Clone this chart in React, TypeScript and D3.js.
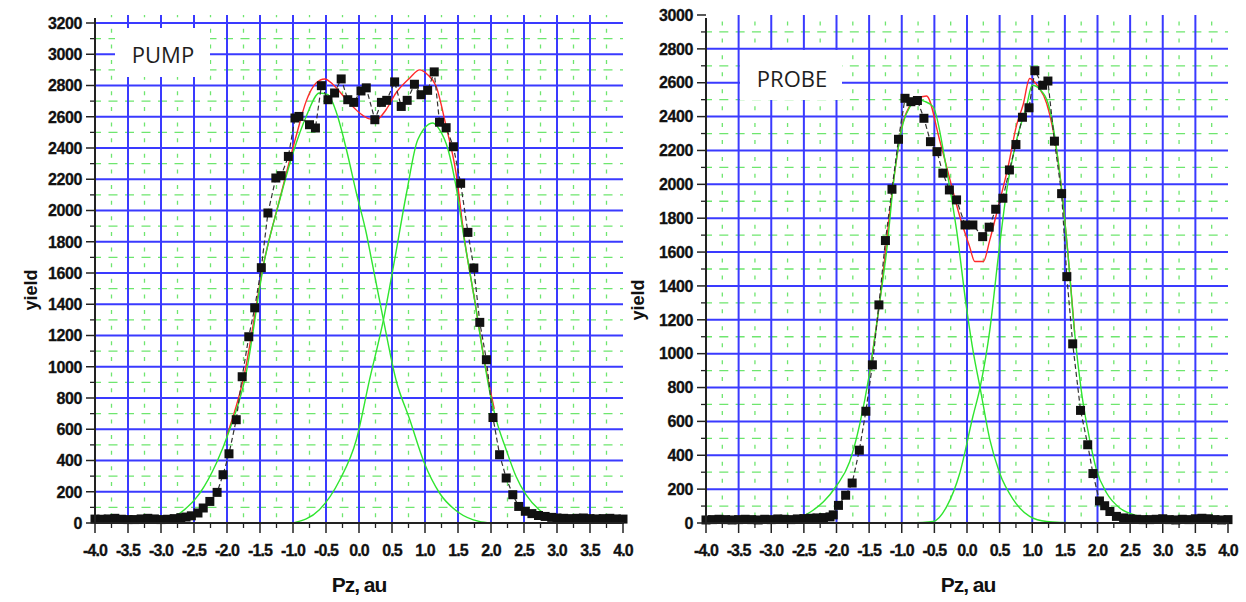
import React from "react";
import * as d3 from "d3";

// ---- data ----
const xTickLabels = ["-4.0", "-3.5", "-3.0", "-2.5", "-2.0", "-1.5", "-1.0", "-0.5", "0.0", "0.5", "1.0", "1.5", "2.0", "2.5", "3.0", "3.5", "4.0"];
const pumpYTicks = [0, 200, 400, 600, 800, 1000, 1200, 1400, 1600, 1800, 2000, 2200, 2400, 2600, 2800, 3000, 3200];
const probeYTicks = [0, 200, 400, 600, 800, 1000, 1200, 1400, 1600, 1800, 2000, 2200, 2400, 2600, 2800, 3000];

// PUMP measured points
const pumpPz = [
  -4.0, -3.9, -3.8, -3.7, -3.6, -3.5, -3.4, -3.3, -3.2, -3.1,
  -3.0, -2.9, -2.8, -2.7, -2.62, -2.54, -2.44, -2.36, -2.26, -2.15,
  -2.06, -1.97, -1.86, -1.77, -1.67, -1.58, -1.48, -1.38, -1.26, -1.18,
  -1.07, -0.97, -0.91, -0.75, -0.66, -0.57, -0.47, -0.37, -0.27, -0.17,
  -0.08, 0.03, 0.11, 0.24, 0.34, 0.42, 0.54, 0.64, 0.73, 0.84,
  0.94, 1.04, 1.14, 1.22, 1.32, 1.43, 1.54, 1.65, 1.74, 1.83,
  1.93, 2.03, 2.13, 2.23, 2.33, 2.42, 2.52, 2.62, 2.72, 2.82,
  2.92, 3.0, 3.1, 3.2, 3.3, 3.4, 3.5, 3.6, 3.7, 3.8,
  3.9, 4.0,
];
const pumpYield = [
  25, 24, 26, 30, 24, 22, 22, 26, 30, 26,
  22, 24, 28, 34, 38, 46, 64, 96, 138, 196,
  309, 443, 661, 936, 1192, 1377, 1634, 1984, 2208, 2223,
  2346, 2592, 2602, 2549, 2528, 2799, 2709, 2752, 2842, 2709,
  2692, 2765, 2785, 2581, 2692, 2705, 2823, 2666, 2705, 2808,
  2741, 2769, 2887, 2565, 2530, 2408, 2174, 1860, 1632, 1284,
  1045, 675, 437, 288, 181, 106, 75, 60, 48, 42,
  36, 32, 30, 28, 30, 32, 28, 26, 28, 30,
  26, 25,
];
// PUMP fit (red) and its two components (green)
const pumpFitPz = [-2.0, -1.75, -1.43, -1.2, -0.95, -0.8, -0.65, -0.52, -0.39, -0.19, 0.01, 0.16, 0.26, 0.41, 0.56, 0.77, 0.92, 1.04, 1.17, 1.32, 1.47, 1.6, 1.75, 1.9, 2.05];
const pumpFit = [560, 925, 1690, 2075, 2480, 2700, 2816, 2842, 2805, 2709, 2624, 2586, 2581, 2645, 2752, 2848, 2900, 2869, 2794, 2538, 2240, 1810, 1435, 1040, 730];
const pumpPeak1Pz = [-4.0, -3.0, -2.71, -2.41, -2.16, -1.96, -1.73, -1.43, -1.2, -1.0, -0.8, -0.6, -0.47, -0.34, -0.19, -0.04, 0.11, 0.19, 0.37, 0.56, 0.77, 0.99, 1.22, 1.52, 1.82, 2.0];
const pumpPeak1 = [0, 10, 64, 192, 384, 597, 917, 1685, 2069, 2368, 2602, 2752, 2741, 2624, 2389, 2112, 1856, 1685, 1300, 917, 661, 384, 192, 64, 10, 0];
const pumpPeak2Pz = [-1.0, -0.6, -0.29, -0.04, 0.16, 0.37, 0.54, 0.72, 0.89, 1.12, 1.22, 1.35, 1.47, 1.6, 1.75, 1.9, 2.0, 2.08, 2.23, 2.38, 2.53, 2.73, 3.03, 3.28, 4.0];
const pumpPeak2 = [0, 85, 277, 533, 917, 1300, 1685, 2112, 2453, 2560, 2517, 2389, 2154, 1800, 1430, 1030, 800, 660, 469, 298, 181, 85, 21, 0, 0];

// PROBE measured points
const probePz = [
  -4.0, -3.9, -3.8, -3.7, -3.6, -3.5, -3.4, -3.3, -3.2, -3.1,
  -3.0, -2.9, -2.8, -2.7, -2.6, -2.5, -2.4, -2.3, -2.2, -2.1,
  -2.05, -1.97, -1.86, -1.76, -1.65, -1.55, -1.45, -1.35, -1.25, -1.15,
  -1.05, -0.95, -0.86, -0.76, -0.66, -0.56, -0.46, -0.37, -0.27, -0.16,
  -0.03, 0.09, 0.24, 0.34, 0.44, 0.55, 0.65, 0.75, 0.85, 0.95,
  1.04, 1.16, 1.24, 1.34, 1.45, 1.53, 1.62, 1.74, 1.85, 1.93,
  2.03, 2.11, 2.19, 2.29, 2.4, 2.5, 2.6, 2.7, 2.8, 2.9,
  3.0, 3.1, 3.2, 3.3, 3.4, 3.5, 3.6, 3.7, 3.8, 3.9,
  4.0,
];
const probeYield = [
  18, 20, 22, 20, 18, 20, 22, 20, 18, 22,
  20, 24, 22, 20, 24, 26, 28, 30, 32, 36,
  48, 104, 164, 236, 430, 660, 934, 1288, 1668, 1971,
  2266, 2508, 2488, 2495, 2390, 2252, 2193, 2066, 1967, 1908,
  1760, 1760, 1691, 1747, 1853, 1918, 2085, 2235, 2396, 2452,
  2671, 2585, 2610, 2255, 1945, 1455, 1058, 665, 462, 292,
  130, 102, 68, 39, 30, 25, 22, 20, 20, 22,
  25, 20, 18, 22, 20, 25, 28, 25, 20, 18,
  20,
];
const probeFitPz = [-1.5, -1.34, -1.11, -0.98, -0.77, -0.62, -0.42, -0.26, -0.11, 0.04, 0.12, 0.25, 0.35, 0.48, 0.63, 0.76, 0.86, 0.96, 1.09, 1.22, 1.42, 1.55, 1.65];
const probeFit = [870, 1300, 2066, 2370, 2505, 2522, 2262, 2026, 1810, 1632, 1544, 1544, 1672, 1869, 2105, 2350, 2470, 2625, 2577, 2479, 2070, 1580, 1125];
const probePeak1Pz = [-2.95, -2.6, -2.4, -2.2, -2.0, -1.8, -1.64, -1.5, -1.34, -1.23, -1.11, -0.98, -0.87, -0.77, -0.65, -0.52, -0.32, -0.16, -0.01, 0.1, 0.2, 0.35, 0.5, 0.71, 0.96, 1.22, 1.73];
const probePeak1 = [0, 25, 65, 125, 220, 360, 590, 870, 1298, 1613, 2066, 2361, 2460, 2502, 2490, 2459, 2105, 1731, 1278, 1000, 800, 492, 295, 138, 39, 9, 0];
const probePeak2Pz = [-0.9, -0.52, -0.31, -0.11, 0.09, 0.2, 0.35, 0.48, 0.61, 0.76, 0.91, 1.0, 1.12, 1.27, 1.42, 1.55, 1.65, 1.75, 1.88, 1.98, 2.14, 2.34, 2.65, 3.06, 3.2];
const probePeak2 = [0, 9, 98, 295, 629, 800, 1141, 1574, 1967, 2262, 2459, 2585, 2560, 2439, 2066, 1574, 1121, 787, 492, 320, 177, 89, 39, 9, 0];

const TICK_FONT = "'Liberation Sans', Arial, sans-serif";
const BLUE = "#3a3aff";
const GRID_GREEN = "#6ee66e";
const FIT_GREEN = "#2fe52f";
const FIT_RED = "#ff2a2a";

type Series = { xs: number[]; ys: number[] };

type PanelCfg = {
  left: number;
  right: number;
  top: number;
  bottom: number;
  yMax: number;
  yTicks: number[];
  gridTop: number;
  hGridMax: number;
  title: string;
  box: { x: number; y: number; w: number; h: number; tx: number; ty: number };
  yLabelX: number;
  yLabelY: number;
  xLabelX: number;
  data: Series;
  fit: Series;
  peaks: Series[];
};

const Panel = ({ cfg }: { cfg: PanelCfg }) => {
  const x = d3.scaleLinear().domain([-4, 4]).range([cfg.left, cfg.right]);
  const y = d3.scaleLinear().domain([0, cfg.yMax]).range([cfg.bottom, cfg.top]);

  const xMajor = xTickLabels.map((t) => +t);
  const xMinor = xMajor.slice(1).map((t, i) => (t + xMajor[i]) / 2);
  const yMinor = cfg.yTicks.slice(1).map((t, i) => (t + cfg.yTicks[i]) / 2);

  // pixel spacing of the major grid, used for the green dash rhythm
  const xStep = x(xMajor[1]) - x(xMajor[0]);
  const yStep = y(cfg.yTicks[0]) - y(cfg.yTicks[1]);

  const path = (s: Series, curve: d3.CurveFactory) =>
    d3
      .line<number>()
      .x((v) => x(v))
      .y((_, i) => y(s.ys[i]))
      .curve(curve)(s.xs) || "";

  return (
    <g>
      {/* green dashed minor grid */}
      {xMinor.map((t) => (
        <line
          key={`gv${t}`}
          x1={x(t)}
          x2={x(t)}
          y1={cfg.bottom}
          y2={cfg.gridTop}
          stroke={GRID_GREEN}
          strokeWidth={1.3}
          strokeDasharray={`4,${yStep / 2 - 4}`}
          strokeDashoffset={-yStep / 4 + 2}
        />
      ))}
      {yMinor.map((t) => (
        <line
          key={`gh${t}`}
          x1={cfg.left}
          x2={cfg.right}
          y1={y(t)}
          y2={y(t)}
          stroke={GRID_GREEN}
          strokeWidth={1.3}
          strokeDasharray={`9,${xStep / 2 - 9}`}
          strokeDashoffset={-xStep / 2 + 3}
        />
      ))}
      {/* blue major grid */}
      {xMajor.slice(1, -1).map((t) => (
        <line key={`bv${t}`} x1={x(t)} x2={x(t)} y1={cfg.gridTop} y2={cfg.bottom} stroke={BLUE} strokeWidth={2} />
      ))}
      {cfg.yTicks.filter((t) => t > 0 && t <= cfg.hGridMax).map((t) => (
        <line key={`bh${t}`} x1={cfg.left} x2={cfg.right} y1={y(t)} y2={y(t)} stroke={BLUE} strokeWidth={2} />
      ))}

      {/* title box */}
      <rect x={cfg.box.x} y={cfg.box.y} width={cfg.box.w} height={cfg.box.h} fill="white" />
      <text x={cfg.box.tx} y={cfg.box.ty} textAnchor="middle" fontFamily="'Open Sans', sans-serif" fontSize={22} fill="#1e1e1e">
        {cfg.title}
      </text>

      {/* fits */}
      <path d={path(cfg.fit, d3.curveMonotoneX)} fill="none" stroke={FIT_RED} strokeWidth={1.4} />
      {cfg.peaks.map((p, i) => (
        <path key={`pk${i}`} d={path(p, d3.curveMonotoneX)} fill="none" stroke={FIT_GREEN} strokeWidth={1.4} />
      ))}

      {/* measured points */}
      <path d={path(cfg.data, d3.curveLinear)} fill="none" stroke="#333" strokeWidth={1.2} strokeDasharray="5,3" />
      {cfg.data.xs.map((v, i) => (
        <rect key={`pt${i}`} x={x(v) - 4.5} y={y(cfg.data.ys[i]) - 4.5} width={9} height={9} fill="#111" />
      ))}

      {/* axes */}
      <line x1={cfg.left} x2={cfg.left} y1={cfg.gridTop + 3} y2={cfg.bottom + 1} stroke="#222" strokeWidth={2} />
      <line x1={cfg.left - 1} x2={cfg.right + 1} y1={cfg.bottom} y2={cfg.bottom} stroke="#222" strokeWidth={2} />
      {cfg.yTicks.map((t) => (
        <g key={`yt${t}`}>
          <line x1={cfg.left - 9} x2={cfg.left} y1={y(t)} y2={y(t)} stroke="#222" strokeWidth={1.5} />
          <text x={cfg.left - 13} y={y(t)} dy="0.36em" textAnchor="end" fontFamily={TICK_FONT} fontWeight="bold" fontSize={16} letterSpacing={-0.4} fill="#111" stroke="#111" strokeWidth={0.3}>
            {t}
          </text>
        </g>
      ))}
      {yMinor.map((t) => (
        <line key={`ym${t}`} x1={cfg.left - 5} x2={cfg.left} y1={y(t)} y2={y(t)} stroke="#222" strokeWidth={1.3} />
      ))}
      {xTickLabels.map((lbl) => (
        <g key={`xt${lbl}`}>
          <line x1={x(+lbl)} x2={x(+lbl)} y1={cfg.bottom} y2={cfg.bottom + 10} stroke="#222" strokeWidth={1.5} />
          <text x={x(+lbl)} y={cfg.bottom + 33} textAnchor="middle" fontFamily={TICK_FONT} fontWeight="bold" fontSize={16} letterSpacing={-0.9} fill="#111" stroke="#111" strokeWidth={0.3}>
            {lbl}
          </text>
        </g>
      ))}
      {xMinor.map((t) => (
        <line key={`xm${t}`} x1={x(t)} x2={x(t)} y1={cfg.bottom} y2={cfg.bottom + 5} stroke="#222" strokeWidth={1.3} />
      ))}

      {/* axis titles */}
      <text transform={`translate(${cfg.yLabelX},${cfg.yLabelY}) rotate(-90)`} textAnchor="middle" fontFamily={TICK_FONT} fontWeight="bold" fontSize={18} fill="#111">
        yield
      </text>
      <text x={cfg.xLabelX} y={592} textAnchor="middle" fontFamily={TICK_FONT} fontWeight="bold" fontSize={21} letterSpacing={-1} fill="#111">
        Pz, au
      </text>
    </g>
  );
};

const pumpCfg: PanelCfg = {
  left: 95,
  right: 623,
  top: 23,
  bottom: 523,
  yMax: 3200,
  yTicks: pumpYTicks,
  gridTop: 15,
  hGridMax: 3200,
  title: "PUMP",
  box: { x: 115, y: 28, w: 95, h: 49, tx: 163, ty: 63 },
  yLabelX: 37,
  yLabelY: 290,
  xLabelX: 359,
  data: { xs: pumpPz, ys: pumpYield },
  fit: { xs: pumpFitPz, ys: pumpFit },
  peaks: [
    { xs: pumpPeak1Pz, ys: pumpPeak1 },
    { xs: pumpPeak2Pz, ys: pumpPeak2 },
  ],
};

const probeCfg: PanelCfg = {
  left: 706,
  right: 1228,
  top: 15,
  bottom: 523,
  yMax: 3000,
  yTicks: probeYTicks,
  gridTop: 15,
  hGridMax: 2800,
  title: "PROBE",
  box: { x: 740, y: 50, w: 102, h: 50, tx: 792, ty: 87 },
  yLabelX: 644,
  yLabelY: 300,
  xLabelX: 968,
  data: { xs: probePz, ys: probeYield },
  fit: { xs: probeFitPz, ys: probeFit },
  peaks: [
    { xs: probePeak1Pz, ys: probePeak1 },
    { xs: probePeak2Pz, ys: probePeak2 },
  ],
};

export default function App() {
  return (
    <svg width={1246} height={602} style={{ position: "absolute", left: 0, top: 0, background: "white" }}>
      <Panel cfg={pumpCfg} />
      <Panel cfg={probeCfg} />
    </svg>
  );
}
